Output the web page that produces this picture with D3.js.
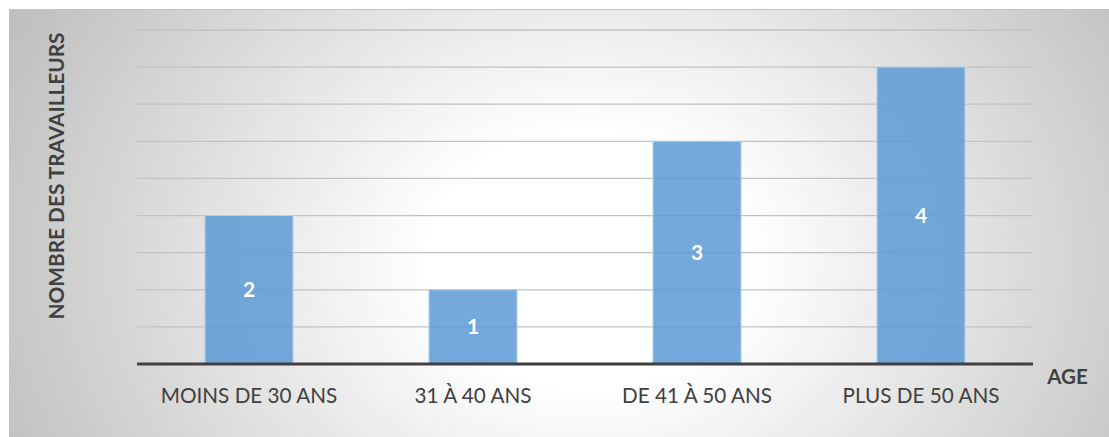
<!DOCTYPE html>
<html>
<head>
<meta charset="utf-8">
<script src="https://cdn.jsdelivr.net/npm/d3@7"></script>
<style>
  html, body { margin: 0; padding: 0; background: #ffffff; }
  svg { display: block; }
</style>
</head>
<body>
<div id="chart"></div>
<script>
// Workers per age group
const categories = ["MOINS DE 30 ANS", "31 À 40 ANS", "DE 41 À 50 ANS", "PLUS DE 50 ANS"];
const values = [2, 1, 3, 4];
const gridTicks = [0.5, 1, 1.5, 2, 2.5, 3, 3.5, 4, 4.5];
const yTitle = "NOMBRE DES TRAVAILLEURS";
const xTitle = "AGE";

const W = 1109, H = 437;
const plot = { left: 137, right: 1033, top: 30, bottom: 364 };
const font = "Lato, 'Open Sans', sans-serif";
const textColor = "#404040";

const svg = d3.select("#chart").append("svg")
  .attr("width", W).attr("height", H);

const defs = svg.append("defs");
const grad = defs.append("radialGradient")
  .attr("id", "bg")
  .attr("gradientUnits", "userSpaceOnUse")
  .attr("cx", 590).attr("cy", 260).attr("r", 640)
  .attr("gradientTransform", "translate(590,260) scale(1,0.8) translate(-590,-260)");
grad.append("stop").attr("offset", "0").attr("stop-color", "#ffffff");
grad.append("stop").attr("offset", "0.25").attr("stop-color", "#ffffff");
grad.append("stop").attr("offset", "1").attr("stop-color", "#c0c0c0");

// Chart area background
svg.append("rect")
  .attr("x", 9).attr("y", 9.5).attr("width", W - 9).attr("height", H - 9.5)
  .attr("fill", "url(#bg)");
svg.append("line")
  .attr("x1", 9).attr("x2", W).attr("y1", 9.5).attr("y2", 9.5)
  .attr("stroke", "#c4c4c4").attr("stroke-width", 1.2);

const x = d3.scaleBand()
  .domain(categories)
  .range([plot.left, plot.right])
  .paddingInner(0.607)
  .paddingOuter(0.3035);

const y = d3.scaleLinear()
  .domain([0, 4.5])
  .range([plot.bottom, plot.top]);

// Horizontal gridlines
svg.append("g")
  .selectAll("line")
  .data(gridTicks)
  .join("line")
  .attr("x1", plot.left).attr("x2", plot.right)
  .attr("y1", d => y(d)).attr("y2", d => y(d))
  .attr("stroke", "#c2c2c2").attr("stroke-width", 1.3);

// Bars
svg.append("g")
  .selectAll("rect")
  .data(values)
  .join("rect")
  .attr("x", (d, i) => x(categories[i]))
  .attr("y", d => y(d))
  .attr("width", x.bandwidth())
  .attr("height", d => y(0) - y(d))
  .attr("fill", "#5b9bd5")
  .attr("fill-opacity", 0.85)
  .attr("stroke", "#b4d2ee")
  .attr("stroke-width", 1);

// Value labels inside bars
svg.append("g")
  .selectAll("text")
  .data(values)
  .join("text")
  .attr("x", (d, i) => x(categories[i]) + x.bandwidth() / 2)
  .attr("y", d => (y(d) + y(0)) / 2)
  .attr("dy", "0.36em")
  .attr("text-anchor", "middle")
  .attr("font-family", font)
  .attr("font-weight", "bold")
  .attr("font-size", 21)
  .attr("fill", "#ffffff")
  .text(d => d);

// Baseline axis
const xAxis = svg.append("g")
  .attr("transform", `translate(0,${plot.bottom})`)
  .call(d3.axisBottom(x).tickSize(0));
xAxis.select(".domain")
  .attr("stroke", "#404040").attr("stroke-width", 3)
  .attr("d", `M${plot.left},0H${plot.right}`);
xAxis.selectAll(".tick text")
  .attr("y", 39)
  .attr("dy", null)
  .attr("font-family", font)
  .attr("font-size", 20.7)
  .attr("fill", textColor);

// Axis titles
svg.append("text")
  .attr("transform", `translate(63.5,176) rotate(-90)`)
  .attr("text-anchor", "middle")
  .attr("font-family", font)
  .attr("font-weight", "bold")
  .attr("font-size", 20.8)
  .attr("fill", textColor)
  .text(yTitle);

svg.append("text")
  .attr("x", 1067.5).attr("y", 384)
  .attr("text-anchor", "middle")
  .attr("font-family", font)
  .attr("font-weight", "bold")
  .attr("font-size", 20.5)
  .attr("fill", textColor)
  .text(xTitle);
</script>
</body>
</html>
